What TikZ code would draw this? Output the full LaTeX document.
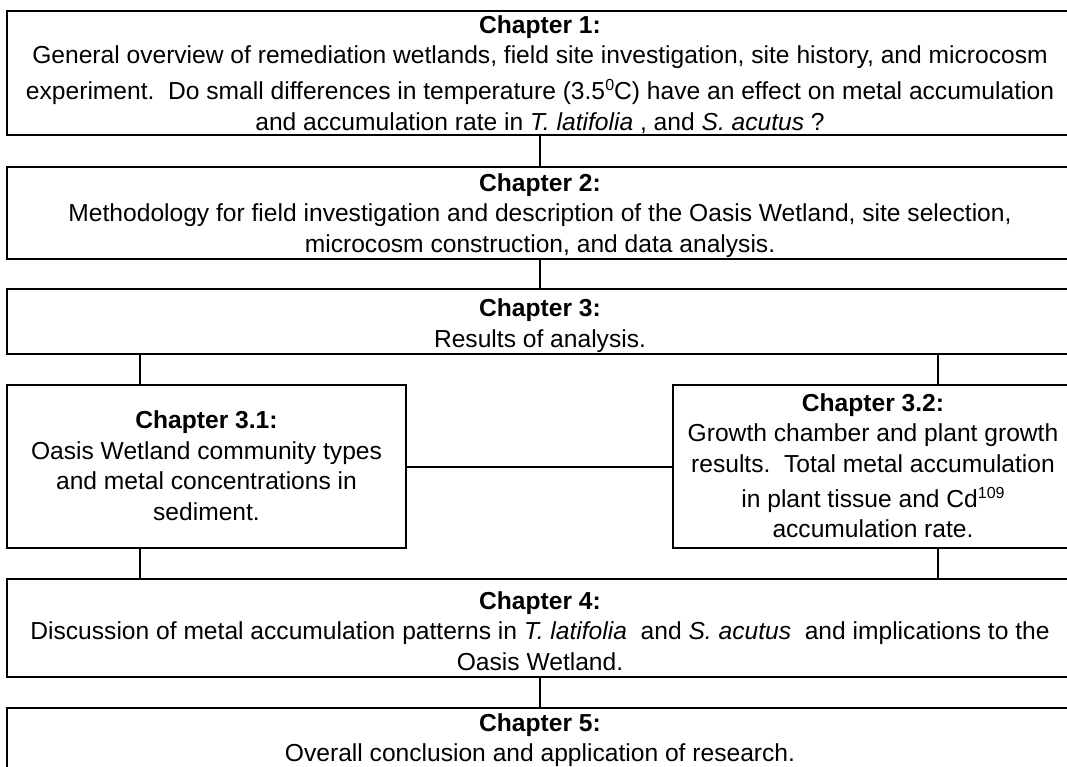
\documentclass[tikz,border=0pt]{standalone}
\usepackage{fontspec}
\setmainfont{Liberation Sans}
\newcommand\supx[1]{\raisebox{0.36em}{\fontsize{16}{16}\selectfont #1}}
\begin{document}
\begin{tikzpicture}[x=1pt,y=-1pt,
  box/.style={draw=black, line width=2pt, inner sep=0pt, fill=none},
  txt/.style={anchor=north, inner sep=0pt, align=center,
    font=\fontsize{24.6}{30.5}\selectfont,
    execute at begin node={\rule{0pt}{22pt}}},
  link/.style={draw=black, line width=2pt}]
\useasboundingbox (0,0) rectangle (1067,767);
\fill[white] (0,0) rectangle (1067,767);

% boxes
\node[box, minimum width=1066pt, minimum height=124pt] (c1) at (540,73) {};
\node[box, minimum width=1066pt, minimum height=92pt] (c2) at (540,213) {};
\node[box, minimum width=1066pt, minimum height=65pt] (c3) at (540,321.5) {};
\node[box, minimum width=399pt, minimum height=163pt] (c31) at (206.5,466.5) {};
\node[box, minimum width=400pt, minimum height=163pt] (c32) at (873,466.5) {};
\node[box, minimum width=1066pt, minimum height=98pt] (c4) at (540,628) {};
\node[box, minimum width=1066pt, minimum height=112pt] (c5) at (540,764) {};

% texts
\node[txt] (t1) at (540,15) {\textbf{Chapter 1:}\\
General overview of remediation wetlands, field site investigation, site history, and microcosm\\[5.5pt]
experiment.\ \ Do small differences in temperature (3.5\supx{0}C) have an effect on metal accumulation\\
and accumulation rate in \textit{T. latifolia} , and \textit{S. acutus} ?};

\node[txt] (t2) at (540,173) {\textbf{Chapter 2:}\\
Methodology for field investigation and description of the Oasis Wetland, site selection,\\
microcosm construction, and data analysis.};

\node[txt] (t3) at (540,298.5) {\textbf{Chapter 3:}\\
Results of analysis.};

\node[txt] (t31) at (206.5,410.5) {\textbf{Chapter 3.1:}\\
Oasis Wetland community types\\
and metal concentrations in\\
sediment.};

\node[txt] (t32) at (873,393) {\textbf{Chapter 3.2:}\\
Growth chamber and plant growth\\
results.\ \ Total metal accumulation\\[4.5pt]
in plant tissue and Cd\supx{109}\\
accumulation rate.};

\node[txt] (t4) at (540,591) {\textbf{Chapter 4:}\\
Discussion of metal accumulation patterns in \textit{T. latifolia}\ \ and \textit{S. acutus}\ \ and implications to the\\
Oasis Wetland.};

\node[txt] (t5) at (540,713) {\textbf{Chapter 5:}\\
Overall conclusion and application of research.};

% connectors
\coordinate (L) at (140,0);
\coordinate (R) at (938,0);
\draw[link] (c1.south) -- (c2.north);
\draw[link] (c2.south) -- (c3.north);
\draw[link] (c3.south -| L) -- (c31.north -| L);
\draw[link] (c3.south -| R) -- (c32.north -| R);
\draw[link] (c31.east) -- (c32.west);
\draw[link] (c31.south -| L) -- (c4.north -| L);
\draw[link] (c32.south -| R) -- (c4.north -| R);
\draw[link] (c4.south) -- (c5.north);
\end{tikzpicture}
\end{document}
